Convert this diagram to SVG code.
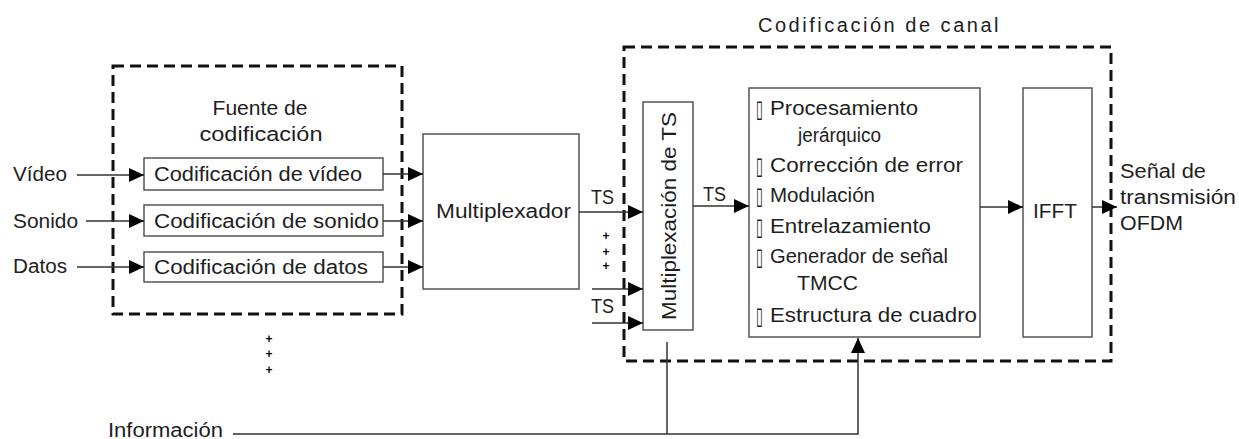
<svg xmlns="http://www.w3.org/2000/svg" width="1239" height="439" viewBox="0 0 1239 439">
<style>
text{font-family:"Liberation Sans",Arial,sans-serif;font-size:20px;fill:#1e1e1e}
.box{fill:#fff;stroke:#555;stroke-width:1.5}
.dash{fill:none;stroke:#111;stroke-width:3;stroke-dasharray:11 6}
.ln{fill:none;stroke:#333;stroke-width:1.5}
.tofu{font-family:"DejaVu Sans",sans-serif;font-size:24px}
.plus{font-size:12px;font-weight:bold;fill:#000}
</style>
<defs>
<marker id="ah" markerUnits="userSpaceOnUse" markerWidth="16" markerHeight="14" refX="15" refY="7" orient="auto">
<path d="M0,0 L15,7 L0,14 Z" fill="#000"/>
</marker>
</defs>

<g id="source-group">
<rect class="dash" x="113" y="66" width="289" height="248"/>
<text x="260" y="115" text-anchor="middle" textLength="95" lengthAdjust="spacingAndGlyphs">Fuente de</text>
<text x="261" y="141" text-anchor="middle" textLength="123" lengthAdjust="spacingAndGlyphs">codificación</text>
</g>

<g id="channel-group">
<rect class="dash" x="624" y="47" width="487" height="314"/>
<text x="758" y="32" textLength="242" lengthAdjust="spacing" letter-spacing="1.5">Codificación de canal</text>
</g>

<g id="inputs">
<text x="13" y="181" textLength="54" lengthAdjust="spacingAndGlyphs">Vídeo</text>
<text x="13" y="228" textLength="65" lengthAdjust="spacingAndGlyphs">Sonido</text>
<text x="13" y="273" textLength="54" lengthAdjust="spacingAndGlyphs">Datos</text>
<text x="108" y="437" textLength="115" lengthAdjust="spacingAndGlyphs">Información</text>
</g>

<g id="video-coding">
<rect class="box" x="144" y="158" width="239" height="32"/>
<text x="154" y="181" textLength="208" lengthAdjust="spacingAndGlyphs">Codificación de vídeo</text>
</g>
<g id="audio-coding">
<rect class="box" x="144" y="205" width="239" height="31"/>
<text x="154" y="228" textLength="225" lengthAdjust="spacingAndGlyphs">Codificación de sonido</text>
</g>
<g id="data-coding">
<rect class="box" x="144" y="252" width="239" height="30"/>
<text x="154" y="274" textLength="214" lengthAdjust="spacingAndGlyphs">Codificación de datos</text>
</g>

<g id="multiplexador">
<rect class="box" x="423" y="134" width="156" height="155"/>
<text x="436" y="218" textLength="135" lengthAdjust="spacingAndGlyphs">Multiplexador</text>
</g>

<g id="ts-mux">
<rect class="box" x="643" y="102" width="50" height="228"/>
<text transform="translate(676,320) rotate(-90)" x="0" y="0" textLength="208" lengthAdjust="spacingAndGlyphs">Multiplexación de TS</text>
</g>

<g id="processing">
<rect class="box" x="749" y="88" width="231" height="249"/>
<text class="tofu" x="756" y="117" textLength="7" lengthAdjust="spacingAndGlyphs">▯</text>
<text x="770" y="115" textLength="148" lengthAdjust="spacingAndGlyphs">Procesamiento</text>
<text x="798" y="142" font-size="18" textLength="83" lengthAdjust="spacingAndGlyphs">jerárquico</text>
<text class="tofu" x="756" y="174" textLength="7" lengthAdjust="spacingAndGlyphs">▯</text>
<text x="770" y="172" textLength="193" lengthAdjust="spacingAndGlyphs">Corrección de error</text>
<text class="tofu" x="756" y="204" textLength="7" lengthAdjust="spacingAndGlyphs">▯</text>
<text x="770" y="202" textLength="105" lengthAdjust="spacingAndGlyphs">Modulación</text>
<text class="tofu" x="756" y="235" textLength="7" lengthAdjust="spacingAndGlyphs">▯</text>
<text x="770" y="233" textLength="161" lengthAdjust="spacingAndGlyphs">Entrelazamiento</text>
<text class="tofu" x="756" y="265" textLength="7" lengthAdjust="spacingAndGlyphs">▯</text>
<text x="770" y="263" textLength="178" lengthAdjust="spacingAndGlyphs">Generador de señal</text>
<text x="797" y="290" textLength="61" lengthAdjust="spacingAndGlyphs">TMCC</text>
<text class="tofu" x="756" y="324" textLength="7" lengthAdjust="spacingAndGlyphs">▯</text>
<text x="770" y="322" textLength="207" lengthAdjust="spacingAndGlyphs">Estructura de cuadro</text>
</g>

<g id="ifft">
<rect class="box" x="1023" y="88" width="69" height="249"/>
<text x="1033" y="218" textLength="44" lengthAdjust="spacingAndGlyphs">IFFT</text>
</g>

<g id="output-label">
<text x="1120" y="178" textLength="86" lengthAdjust="spacingAndGlyphs">Señal de</text>
<text x="1120" y="204" textLength="116" lengthAdjust="spacingAndGlyphs">transmisión</text>
<text x="1120" y="230" textLength="63" lengthAdjust="spacingAndGlyphs">OFDM</text>
</g>

<g id="connectors">
<line class="ln" x1="77" y1="175" x2="144" y2="175" marker-end="url(#ah)"/>
<line class="ln" x1="86" y1="221" x2="144" y2="221" marker-end="url(#ah)"/>
<line class="ln" x1="77" y1="267" x2="144" y2="267" marker-end="url(#ah)"/>
<line class="ln" x1="383" y1="174" x2="423" y2="174" marker-end="url(#ah)"/>
<line class="ln" x1="383" y1="221" x2="423" y2="221" marker-end="url(#ah)"/>
<line class="ln" x1="383" y1="267" x2="423" y2="267" marker-end="url(#ah)"/>
<line class="ln" x1="579" y1="212" x2="643" y2="212" marker-end="url(#ah)"/>
<line class="ln" x1="592" y1="289" x2="643" y2="289" marker-end="url(#ah)"/>
<line class="ln" x1="592" y1="323" x2="643" y2="323" marker-end="url(#ah)"/>
<line class="ln" x1="693" y1="206" x2="749" y2="206" marker-end="url(#ah)"/>
<line class="ln" x1="980" y1="207" x2="1023" y2="207" marker-end="url(#ah)"/>
<line class="ln" x1="1092" y1="207" x2="1117" y2="207" marker-end="url(#ah)"/>
<polyline class="ln" points="233,434 858,434 858,338" marker-end="url(#ah)"/>
<line class="ln" x1="667" y1="342" x2="667" y2="434"/>
<text x="591" y="204" textLength="23" lengthAdjust="spacingAndGlyphs">TS</text>
<text x="591" y="313" textLength="23" lengthAdjust="spacingAndGlyphs">TS</text>
<text x="703" y="201" textLength="23" lengthAdjust="spacingAndGlyphs">TS</text>
<text class="plus" x="606" y="240" text-anchor="middle">+</text>
<text class="plus" x="606" y="256" text-anchor="middle">+</text>
<text class="plus" x="606" y="270" text-anchor="middle">+</text>
<text class="plus" x="269" y="343" text-anchor="middle">+</text>
<text class="plus" x="269" y="358" text-anchor="middle">+</text>
<text class="plus" x="269" y="374" text-anchor="middle">+</text>
</g>
</svg>
